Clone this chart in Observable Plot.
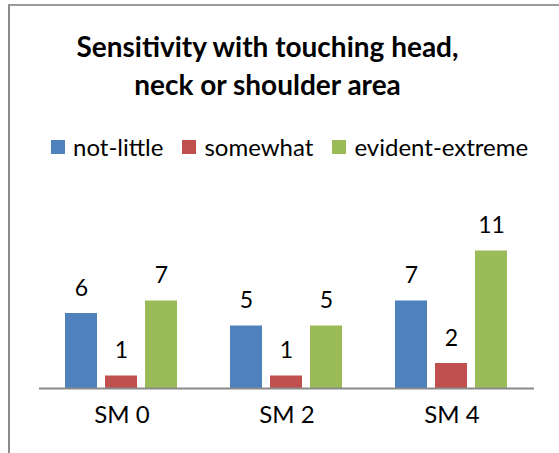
<!DOCTYPE html>
<html>
<head>
<meta charset="utf-8">
<script src="https://cdn.jsdelivr.net/npm/d3@7"></script>
<script src="https://cdn.jsdelivr.net/npm/@observablehq/plot@0.6"></script>
<style>
  html, body { margin: 0; padding: 0; background: #fff; }
  #frame { position: relative; width: 559px; height: 453px; overflow: hidden; font-family: Lato, "Open Sans", sans-serif; color: #000; }
  #border { position: absolute; left: 8px; top: 4px; width: 560px; height: 460px; border-left: 2px solid #8c8c8c; border-top: 2px solid #9a9a9a; box-sizing: border-box; }
  #title { position: absolute; left: 0; top: 27px; width: 535px; text-align: center; font-weight: bold; font-size: 28px; line-height: 38px; }
  #legend { position: absolute; left: 51px; top: 134px; display: flex; align-items: center; font-size: 24px; line-height: 26px; white-space: nowrap; }
  .item { display: flex; align-items: center; margin-right: 19px; }
  .sw { width: 14px; height: 14px; margin-right: 8px; }
  #chart { position: absolute; left: 0; top: 160px; }
</style>
</head>
<body>
<div id="frame">
  <div id="border"></div>
  <div id="title">Sensitivity with touching head,<br>neck or shoulder area</div>
  <div id="legend"></div>
  <div id="chart"></div>
</div>
<script>
const categories = ["SM 0", "SM 2", "SM 4"];
const seriesNames = ["not-little", "somewhat", "evident-extreme"];
const notLittle = [6, 5, 7];
const somewhat = [1, 1, 2];
const evidentExtreme = [7, 5, 11];
const colors = ["#4F81BD", "#C0504D", "#9BBB59"];

const seriesValues = [notLittle, somewhat, evidentExtreme];
const data = [];
categories.forEach((c, i) => {
  seriesNames.forEach((s, j) => {
    data.push({category: c, series: s, value: seriesValues[j][i]});
  });
});

const legend = document.getElementById("legend");
seriesNames.forEach((s, j) => {
  const it = document.createElement("div");
  it.className = "item";
  const sw = document.createElement("div");
  sw.className = "sw";
  sw.style.background = colors[j];
  const t = document.createElement("span");
  t.textContent = s;
  it.appendChild(sw); it.appendChild(t);
  legend.appendChild(it);
});

const chart = Plot.plot({
  width: 559,
  height: 293,
  marginLeft: 38,
  marginRight: 24,
  marginTop: 78,
  marginBottom: 65,
  style: {fontFamily: "Lato, 'Open Sans', sans-serif", fontSize: "24px", color: "#000", background: "transparent"},
  fx: {domain: categories, padding: 0, label: null, axis: "bottom", tickSize: 0, tickPadding: 17},
  x: {domain: seriesNames, paddingInner: 0.195, paddingOuter: 0.618, axis: null},
  y: {domain: [0, 12], axis: null},
  color: {domain: seriesNames, range: colors},
  marks: [
    Plot.barY(data, {fx: "category", x: "series", y: "value", fill: "series"}),
    Plot.ruleY([0], {stroke: "#8a8a8a", strokeWidth: 2}),
    Plot.text(data, {fx: "category", x: "series", y: "value", text: d => String(d.value), dy: -25, lineAnchor: "middle", fontSize: 23, fill: "#000"})
  ]
});
document.getElementById("chart").appendChild(chart);
</script>
</body>
</html>
